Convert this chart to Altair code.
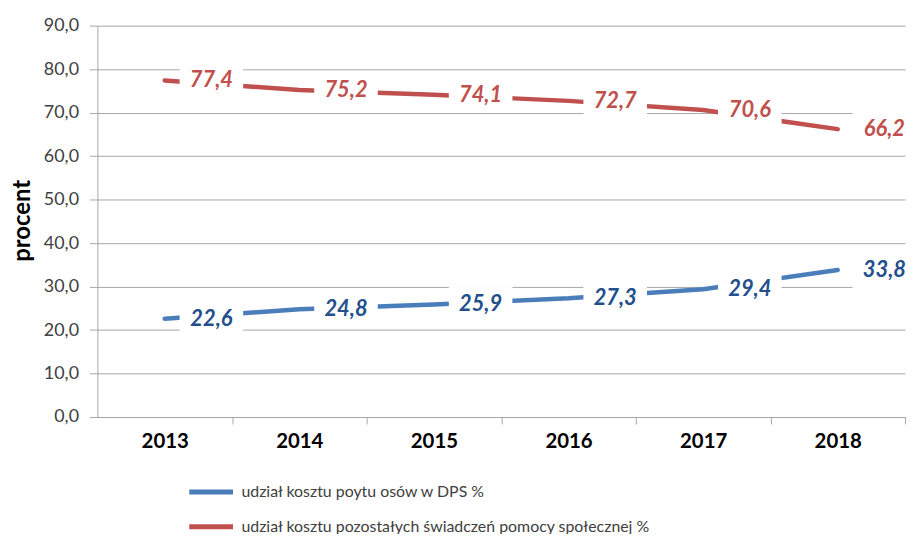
import altair as alt
import pandas as pd

years = ["2013", "2014", "2015", "2016", "2017", "2018"]
dps_share = [22.6, 24.8, 25.9, 27.3, 29.4, 33.8]
other_share = [77.4, 75.2, 74.1, 72.7, 70.6, 66.2]
series_names = [
    "udział kosztu poytu osów w DPS %",
    "udział kosztu pozostałych świadczeń pomocy społecznej %",
]
line_colors = ["#4a7ebb", "#c0504d"]
label_colors = ["#234f8c", "#c0504d"]
y_ticks = [0, 10, 20, 30, 40, 50, 60, 70, 80, 90]

rows = []
for name, vals in zip(series_names, [dps_share, other_share]):
    for yr, v in zip(years, vals):
        rows.append({"rok": yr, "seria": name, "wartosc": v,
                     "etykieta": f"{v:.1f}".replace(".", ",")})
df = pd.DataFrame(rows)

W, H = 813, 394
half_step = W / 6 / 2

x_enc = alt.X(
    "rok:O",
    scale=alt.Scale(type="point", padding=0.5),
    axis=alt.Axis(
        title=None, labelAngle=0, tickOffset=half_step, labelOffset=-half_step,
        labelFont="Lato", labelFontSize=20.5, labelFontWeight="bold",
        labelColor="#000000", labelPadding=8, tickSize=7,
        tickColor="#a6a6a6", domainColor="#a6a6a6", grid=False,
    ),
)
y_enc = alt.Y(
    "wartosc:Q",
    scale=alt.Scale(domain=[0, 90], nice=False),
    axis=alt.Axis(
        values=y_ticks,
        labelExpr="replace(format(datum.value, '.1f'), '.', ',')",
        title="procent", titleFont="Lato", titleFontSize=24,
        titleFontWeight="bold", titleColor="#000000",
        titleX=-75, titleY=196, titleAngle=270, titleAlign="center",
        titleBaseline="middle",
        labelFont="Lato", labelFontSize=18, labelColor="#404040",
        labelPadding=11, tickSize=8, tickColor="#a6a6a6",
        domainColor="#a6a6a6", grid=True, gridColor="#a6a6a6",
    ),
)

base = alt.Chart(df)

lines = base.mark_line(strokeWidth=4.5, strokeCap="round").encode(
    x=x_enc,
    y=y_enc,
    color=alt.Color(
        "seria:N",
        scale=alt.Scale(domain=series_names, range=line_colors),
        legend=alt.Legend(
            title=None, orient="none", legendX=100, legendY=455,
            symbolType="M-1.833,0H1.833", symbolSize=576, symbolStrokeWidth=5,
            labelFont="Lato", labelFontSize=16, labelColor="#404040",
            labelOffset=16, rowPadding=10, labelLimit=700,
        ),
    ),
)

boxes = base.mark_point(
    shape="M-1,-0.5625H1V0.5625H-1Z", filled=True, color="white",
    opacity=1, size=4096, xOffset=47, strokeWidth=0,
).encode(x="rok:O", y="wartosc:Q")

labels = base.mark_text(
    dx=47, font="Lato", fontSize=22, fontStyle="italic", fontWeight="bold",
    align="center", baseline="middle",
).encode(
    x="rok:O",
    y="wartosc:Q",
    text="etykieta:N",
    color=alt.Color("seria:N",
                    scale=alt.Scale(domain=series_names, range=label_colors),
                    legend=None),
)

chart = (
    alt.layer(lines, boxes, labels)
    .resolve_scale(color="independent")
    .properties(
        width=W, height=H,
        autosize=alt.AutoSizeParams(type="none"),
        padding={"left": 90, "top": 16, "right": 4, "bottom": 116},
    )
    .configure_view(stroke=None)
)

chart.save("out.html", embed_options={"renderer": "svg", "actions": False})
